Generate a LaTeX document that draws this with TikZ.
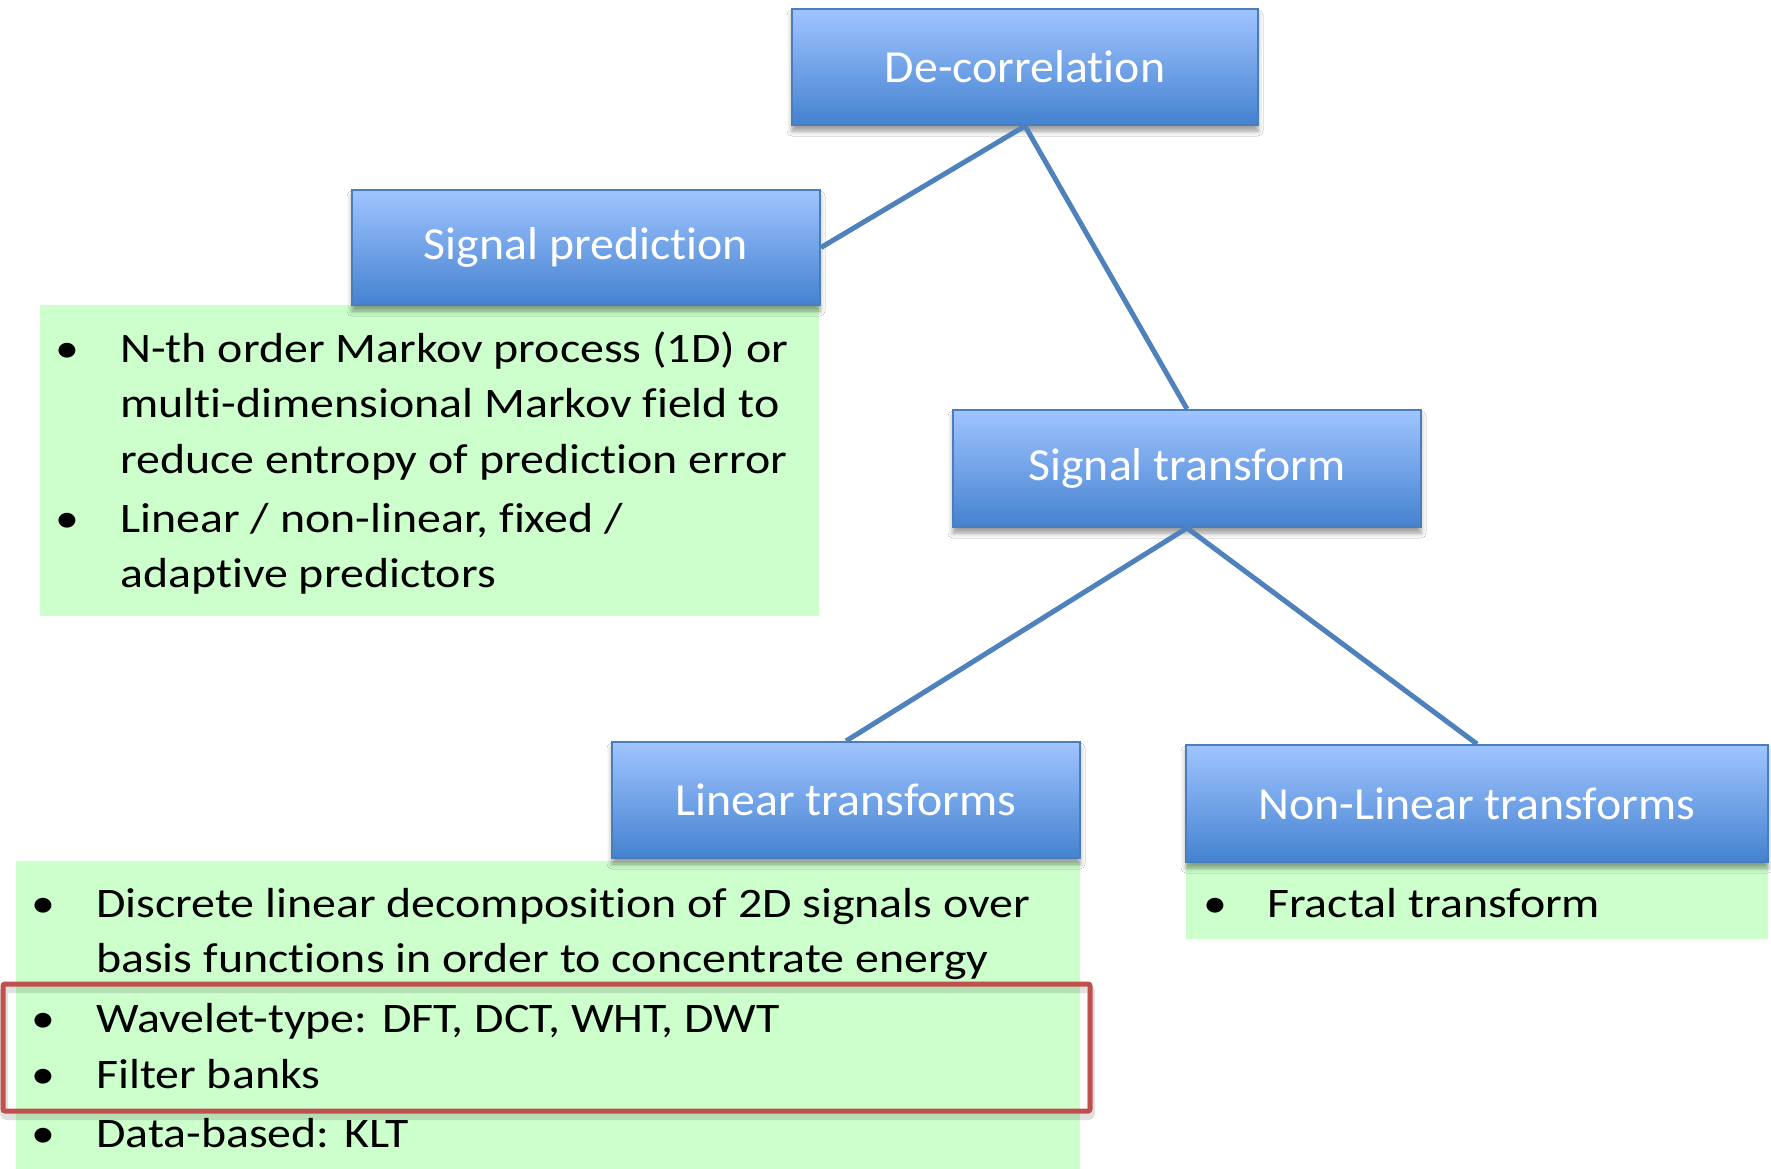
\documentclass[tikz,border=0pt]{standalone}
\usepackage{fontspec}
\setmainfont{Carlito}[Ligatures=NoCommon]
\newfontfamily\bodyfont[FakeStretch=1.14, Ligatures=NoCommon]{Carlito}
\newfontfamily\titlefont[FakeStretch=1.04, Ligatures=NoCommon]{Carlito}
\usetikzlibrary{shadows.blur}
\definecolor{btop}{RGB}{160,196,255}
\definecolor{bbot}{RGB}{68,130,208}
\definecolor{bline}{RGB}{74,126,187}
\definecolor{conn}{RGB}{79,129,189}
\definecolor{gfill}{RGB}{204,255,204}
\definecolor{redhl}{RGB}{192,80,77}
\tikzset{
  bluebox/.style={draw=bline, line width=2pt, top color=btop, bottom color=bbot,
    text=white, font=\titlefont\fontsize{46}{54}\selectfont, inner sep=0pt,
    blur shadow={shadow xshift=0pt, shadow yshift=-6pt, shadow blur radius=5pt, shadow opacity=40}},
  greenbox/.style={fill=gfill, draw=none},
  conline/.style={draw=conn, line width=5pt},
  bodytxt/.style={anchor=base west, inner sep=0pt, font=\bodyfont\fontsize{42}{50}\selectfont},
  bul/.style={anchor=base, inner sep=0pt, font=\bodyfont\fontsize{42}{50}\selectfont},
}
\begin{document}
\begin{tikzpicture}[x=1pt, y=-1pt]
\fill[white] (0,0) rectangle (1771,1169);
\useasboundingbox (0,0) rectangle (1771,1169);

% green boxes
\fill[greenbox] (40,305) rectangle (819,616);
\fill[greenbox] (16,861) rectangle (1080,1169);
\fill[greenbox] (1186,862) rectangle (1768,939);

% blue boxes
\node[bluebox, minimum width=466pt, minimum height=116pt] (dec) at (1025,67) {De-correlation};
\node[bluebox, minimum width=468pt, minimum height=115pt] (pred) at (586,247.5) {Signal prediction};
\node[bluebox, minimum width=468pt, minimum height=117pt] (trans) at (1187,468.5) {Signal transform};
\node[bluebox, minimum width=468pt, minimum height=116pt] (lin) at (846,800) {Linear transforms};
\node[bluebox, minimum width=582pt, minimum height=117pt] (nonlin) at (1477,803.5) {Non-Linear transforms};

% connectors
\draw[conline] (dec.south) -- (pred.east);
\draw[conline] (dec.south) -- (trans.north);
\draw[conline] (trans.south) -- (lin.north);
\draw[conline] (trans.south) -- (nonlin.north);

% text box 1
\node[bul] (b11) at (67,362) {\textbullet};
\node[bodytxt] (t11) at (120,362) {N-th order Markov process (1D) or};
\node[bodytxt] (t12) at (120,417) {multi-dimensional Markov field to};
\node[bodytxt] (t13) at (120,473) {reduce entropy of prediction error};
\node[bul] (b12) at (67,532) {\textbullet};
\node[bodytxt] (t14) at (120,532) {Linear / non-linear, fixed /};
\node[bodytxt] (t15) at (120,587) {adaptive predictors};

% text box 2
\node[bul] (b21) at (43,917) {\textbullet};
\node[bodytxt] (t21) at (96,917) {Discrete linear decomposition of 2D signals over};
\node[bodytxt] (t22) at (96,972) {basis functions in order to concentrate energy};
\node[bul] (b22) at (43,1032) {\textbullet};
\node[bodytxt] (t23) at (96,1032) {Wavelet-type: DFT, DCT, WHT, DWT};
\node[bul] (b23) at (43,1088) {\textbullet};
\node[bodytxt] (t24) at (96,1088) {Filter banks};
\node[bul] (b24) at (43,1147) {\textbullet};
\node[bodytxt] (t25) at (96,1147) {Data-based: KLT};

% text box 3
\node[bul] (b31) at (1215,917) {\textbullet};
\node[bodytxt] (t31) at (1267,917) {Fractal transform};

% red highlight with soft shadow
\draw[draw=black, opacity=0.12, line width=8pt, rounded corners=3pt] (4,989) rectangle (1091,1116);
\draw[draw=redhl, line width=5pt, rounded corners=2pt] (3,984) rectangle (1090,1111);
\end{tikzpicture}
\end{document}
